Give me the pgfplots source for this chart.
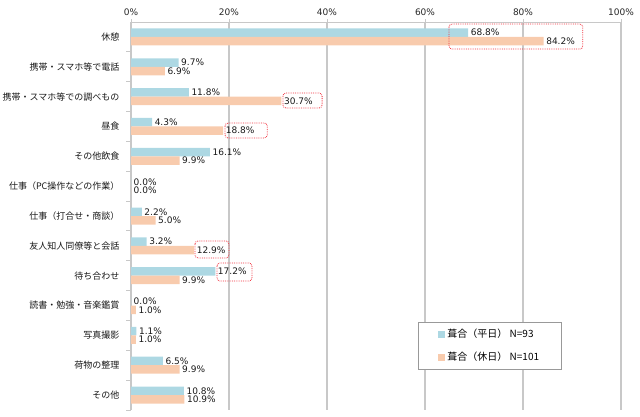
\documentclass[border=0pt]{standalone}
\usepackage{pgfplots}
\pgfplotsset{compat=1.18}
\usepackage{pgfplotstable}
\usepackage{fontspec}
\setmainfont{Noto Sans CJK JP}
\newfontfamily\numfont{DejaVu Sans}
\definecolor{cblue}{HTML}{ADD8E3}
\definecolor{cpeach}{HTML}{F8CBAD}
\definecolor{gridc}{HTML}{C8C8C8}
\definecolor{boxred}{HTML}{F0303C}

\pgfplotstableread{
idx hei kyu
0 68.8 84.2
1 9.7 6.9
2 11.8 30.7
3 4.3 18.8
4 16.1 9.9
5 0.0 0.0
6 2.2 5.0
7 3.2 12.9
8 17.2 9.9
9 0.0 1.0
10 1.1 1.0
11 6.5 9.9
12 10.8 10.9
}\data

\begin{document}
\begin{tikzpicture}
\useasboundingbox (0pt,0pt) rectangle (640pt,-417pt);
\begin{axis}[
  at={(131pt,-410pt)}, anchor=south west,
  width=490pt, height=388pt, scale only axis,
  /pgf/number format/assume math mode=true,
  xbar, bar width=0.285,
  xmin=0, xmax=100, ymin=-0.5, ymax=12.5, y dir=reverse,
  axis x line=top, axis y line=left,
  axis line style={draw=gridc, line width=1pt, -},
  xtick={0,20,...,100},
  xticklabel={\pgfmathprintnumber{\tick}\%},
  xticklabel style={font=\numfont\fontsize{9}{10}\selectfont, text=black!85},
  xtick style={draw=gridc, line width=1pt},
  tick align=outside, major tick length=3pt,
  xmajorgrids, major grid style={draw=gridc, line width=1.2pt},
  ytick={0,...,12},
  yticklabels={休憩,携帯・スマホ等で電話,携帯・スマホ等での調べもの,昼食,その他飲食,仕事（PC操作などの作業）,仕事（打合せ・商談）,友人知人同僚等と会話,待ち合わせ,読書・勉強・音楽鑑賞,写真撮影,荷物の整理,その他},
  yticklabel style={font=\fontsize{9}{10}\selectfont, text=black!90, xshift=-5pt},
  ytick style={draw=none},
  extra y ticks={0.5,1.5,...,12.5},
  extra y tick labels={},
  extra y tick style={ytick style={draw=gridc, line width=1pt}, major tick length=5pt, grid=none},
  nodes near coords={\pgfmathprintnumber[fixed,fixed zerofill,precision=1]{\pgfplotspointmeta}\%},
  every node near coord/.append style={font=\numfont\fontsize{9}{10}\selectfont, text=black!90, inner sep=2.5pt},
  legend style={at={(0.586,0.227)}, anchor=north west, draw=gray!80, line width=0.6pt, fill=white,
    font=\fontsize{10}{12}\selectfont, inner xsep=20pt, inner ysep=5pt, row sep=9pt},
  legend cell align=left,
  legend image code/.code={\fill[#1] (0pt,-3.5pt) rectangle (7pt,3.5pt);},
]
\addplot[fill=cblue, draw=none, bar shift=-0.1425] table[x=hei,y=idx]{\data};
\addplot[fill=cpeach, draw=none, bar shift=0.1425] table[x=kyu,y=idx]{\data};
\legend{葺合（平日）\ N=93\hspace{10pt},葺合（休日）\ N=101\hspace{10pt}}
\begin{scope}[draw=boxred, densely dotted, line width=0.8pt, rounded corners=3pt]
\draw (axis cs:64.9,-0.433) rectangle (axis cs:92.2,0.405);
\draw (axis cs:31.0,1.879) rectangle (axis cs:39.0,2.381);
\draw (axis cs:19.2,2.884) rectangle (axis cs:27.8,3.386);
\draw (axis cs:13.06,6.837) rectangle (axis cs:20.0,7.406);
\draw (axis cs:17.55,7.574) rectangle (axis cs:24.7,8.177);
\end{scope}
\end{axis}
\end{tikzpicture}
\end{document}
